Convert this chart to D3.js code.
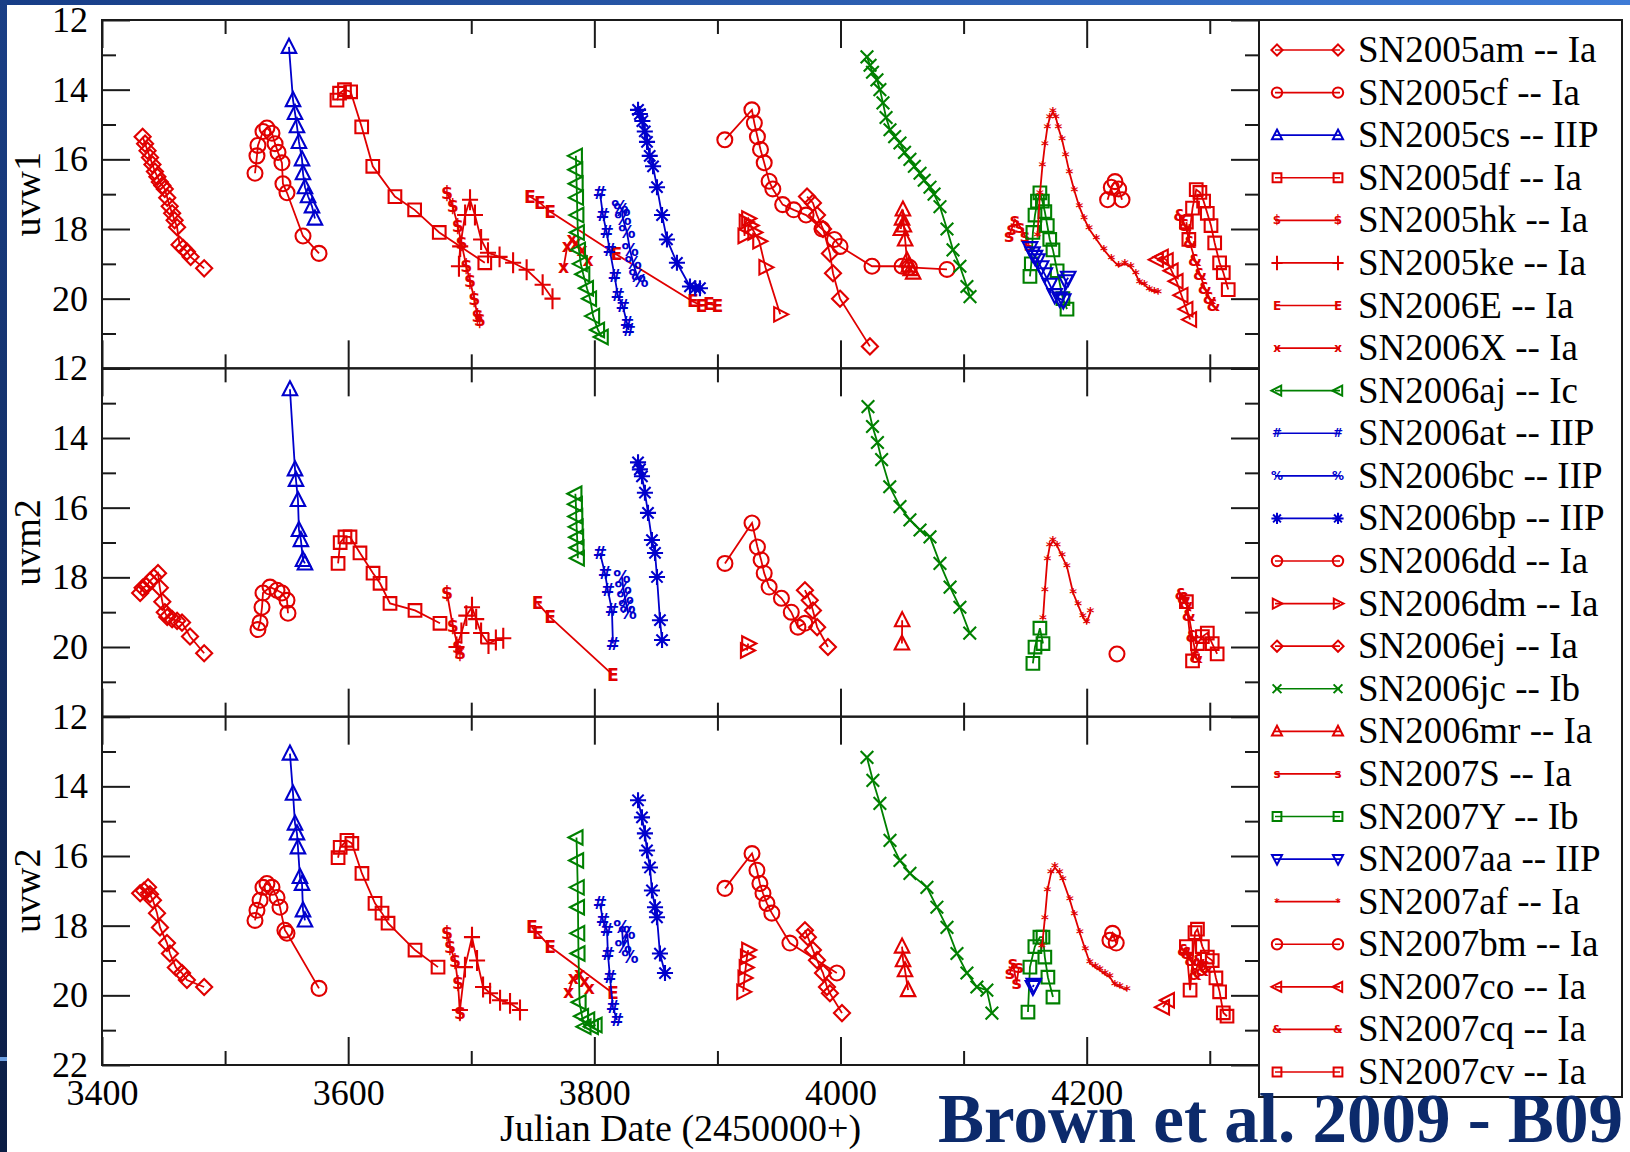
<!DOCTYPE html>
<html><head><meta charset="utf-8">
<script src="https://cdn.jsdelivr.net/npm/d3@7"></script>
<style>html,body{margin:0;padding:0;background:#fff;overflow:hidden}</style>
</head><body>
<svg id="chart" width="1630" height="1152"></svg>
<script>
// ---------------- DATA ----------------
const bands = ["uvw1", "uvm2", "uvw2"];
const xTicksMajor = [3400, 3600, 3800, 4000, 4200];
const xTicksMinor = [3500, 3700, 3900, 4100, 4300];
const yTicksMajor = [12, 14, 16, 18, 20, 22];
const yTicksMinor = [13, 15, 17, 19, 21];
const xTitle = "Julian Date (2450000+)";
const creditText = "Brown et al. 2009 - B09";

const snNames = ["SN2005am","SN2005cf","SN2005cs","SN2005df","SN2005hk","SN2005ke","SN2006E","SN2006X",
  "SN2006aj","SN2006at","SN2006bc","SN2006bp","SN2006dd","SN2006dm","SN2006ej","SN2006jc","SN2006mr",
  "SN2007S","SN2007Y","SN2007aa","SN2007af","SN2007bm","SN2007co","SN2007cq","SN2007cv"];
const snTypes = ["Ia","Ia","IIP","Ia","Ia","Ia","Ia","Ia","Ic","IIP","IIP","IIP","Ia","Ia","Ia","Ib","Ia",
  "Ia","Ib","IIP","Ia","Ia","Ia","Ia","Ia"];

// [JD-2450000, magnitude]
const SN2005am = {
  uvw1: [[3433,15.35],[3435,15.55],[3437,15.75],[3439,15.95],[3441,16.15],[3443,16.35],[3445,16.5],[3447,16.65],[3449,16.75],[3451,16.85],[3453,17.1],[3455,17.35],[3457,17.55],[3459,17.75],[3461,17.95],[3463,18.45],[3466,18.55],[3469,18.65],[3472,18.8],[3483,19.13]],
  uvm2: [[3431,18.45],[3433,18.3],[3436,18.25],[3439,18.1],[3442,18.0],[3445.5,17.88],[3447,18.3],[3449,18.7],[3451,19.0],[3453,19.14],[3457,19.2],[3461,19.25],[3465,19.3],[3471.5,19.7],[3483,20.18]],
  uvw2: [[3431,17.07],[3434,17.0],[3437.4,16.9],[3439,17.1],[3441.4,17.27],[3444.7,17.64],[3447.1,18.05],[3452.8,18.5],[3455.2,18.8],[3460,19.2],[3465,19.36],[3469,19.56],[3483,19.76]]
};
const SN2005cf = {
  uvw1: [[3524.3,16.4],[3525.9,15.9],[3526.7,15.6],[3530.8,15.2],[3534,15.1],[3538.1,15.25],[3540.6,15.55],[3543,15.8],[3546.2,16.1],[3547,16.7],[3550.3,16.96],[3563.3,18.2],[3576.3,18.7]],
  uvm2: [[3526.7,19.5],[3528.4,19.3],[3530,18.86],[3530.8,18.45],[3536.5,18.28],[3542.2,18.37],[3546.2,18.45],[3550.3,18.66],[3551.1,19.03]],
  uvw2: [[3524.3,17.85],[3525.9,17.56],[3528.4,17.27],[3530.8,16.9],[3534,16.79],[3538.1,16.9],[3542.2,17.19],[3544.6,17.47],[3548.6,18.13],[3550.3,18.22],[3576.3,19.8]]
};
const SN2005cs = {
  uvw1: [[3551.9,12.77],[3555.2,14.3],[3556.8,14.67],[3558.4,15.05],[3560,15.5],[3562.5,16.0],[3563.3,16.4],[3564.9,16.8],[3567.4,17.06],[3570.6,17.35],[3573,17.7]],
  uvm2: [[3552.7,12.6],[3556.8,14.9],[3557.6,15.2],[3559.2,15.78],[3560,16.64],[3561.6,16.93],[3563.3,17.5],[3564.9,17.6]],
  uvw2: [[3552.7,13.06],[3555.2,14.21],[3556.8,15.07],[3558.4,15.35],[3559.2,15.75],[3560.8,16.6],[3562.5,16.8],[3563.3,17.56],[3564.9,17.85]]
};
const SN2005df = {
  uvw1: [[3590.9,14.3],[3593,14.1],[3597,14.0],[3602,14.06],[3611,15.07],[3620,16.2],[3638,17.07],[3654,17.45],[3674,18.1],[3711,18.97]],
  uvm2: [[3591.8,17.6],[3593.5,17.0],[3597.4,16.84],[3601.5,16.84],[3609.6,17.3],[3620.2,17.88],[3625.9,18.17],[3634,18.75],[3654.3,18.95],[3674.6,19.32]],
  uvw2: [[3591.8,16.05],[3593.5,15.75],[3599,15.55],[3603,15.64],[3611.2,16.5],[3621.8,17.36],[3627.5,17.64],[3632.4,17.93],[3654.3,18.7],[3673,19.19]]
};
const SN2005hk = {
  uvw1: [[3680.3,16.96],[3685,17.35],[3689,17.9],[3692,18.4],[3696,19.07],[3699,19.5],[3702.5,20.0],[3705,20.5],[3707,20.6]],
  uvm2: [[3680.3,18.45],[3685,19.4],[3689.2,19.99],[3690.8,20.18]],
  uvw2: [[3680.3,18.22],[3682.7,18.6],[3686.8,19.0],[3689.2,19.65],[3690.8,20.5]]
};
const SN2005ke = {
  uvw1: [[3690,19.07],[3691,18.5],[3695,17.6],[3699,17.16],[3703,17.6],[3708,18.3],[3713.6,18.68],[3723,18.8],[3734,18.97],[3745,19.17],[3758,19.6],[3766,20.0]],
  uvm2: [[3688,20.0],[3692,19.6],[3696,19.1],[3700.6,18.86],[3704,19.2],[3708,19.6],[3714,19.9],[3720,19.8],[3726,19.75]],
  uvw2: [[3690.8,20.42],[3694.9,19.19],[3700.6,18.33],[3704.7,19.0],[3709.6,19.76],[3715.3,19.94],[3723.4,20.14],[3731.5,20.23],[3739.6,20.42]]
};
const SN2006E = {
  uvw1: [[3747.7,17.07],[3755.8,17.25],[3764,17.5],[3818,18.73],[3880,20.08],[3887,20.2],[3893,20.15],[3900,20.2]],
  uvm2: [[3754,18.75],[3764,19.14],[3815,20.8]],
  uvw2: [[3749.3,18.05],[3754.1,18.22],[3764,18.6],[3815.1,19.94]]
};
const SN2006X = {
  uvw1: [[3775,19.1],[3778,18.5],[3782,18.3],[3785,18.4],[3790,18.6],[3795,18.9]],
  uvm2: [],
  uvw2: [[3779,19.9],[3783,19.5],[3788,19.4],[3792,19.6],[3796,19.8]]
};
const SN2006aj = {
  uvw1: [[3785.0,15.9],[3785.3,16.3],[3785.6,16.7],[3785.9,17.1],[3786.2,17.6],[3786.6,18.1],[3787.5,18.6],[3789,19.0],[3791,19.3],[3794,19.7],[3796.5,20.0],[3799,20.5],[3803,20.9],[3806,21.1]],
  uvm2: [[3784.6,15.6],[3785,15.9],[3785.3,16.25],[3785.6,16.55],[3786,16.85],[3786.3,17.15],[3786.6,17.45]],
  uvw2: [[3785.5,15.47],[3786,16.13],[3786.5,16.9],[3786.7,17.47],[3786.9,18.22],[3787.1,18.8],[3788,20.2],[3790,20.6],[3792,20.9],[3795,20.7],[3798,20.9],[3801,20.85]]
};
const SN2006at = {
  uvw1: [[3804.6,16.97],[3807,17.6],[3810,18.1],[3812.5,18.6],[3816.5,19.36],[3819,19.9],[3823,20.2],[3826.5,20.7],[3828,20.9]],
  uvm2: [[3804.6,17.3],[3808.6,17.88],[3811,18.37],[3814.3,18.95],[3815.1,19.9]],
  uvw2: [[3804.6,17.36],[3807,17.85],[3810.3,18.13],[3811,18.8],[3812.7,19.48],[3815.1,20.34],[3818.4,20.71]]
};
const SN2006bc = {
  uvw1: [[3820.8,17.36],[3822.4,17.45],[3823.2,17.7],[3826.5,18.1],[3829,18.6],[3831.5,18.97],[3834.8,19.36],[3837,19.5]],
  uvm2: [[3822.4,17.99],[3823.5,18.3],[3825,18.6],[3826.5,18.86],[3827.4,19.03]],
  uvw2: [[3822.4,18.05],[3823.5,18.6],[3826.5,18.22],[3828.9,18.9]]
};
const SN2006bp = {
  uvw1: [[3835.5,14.58],[3837,14.7],[3839,14.9],[3841,15.2],[3842.8,15.5],[3845,15.9],[3847.7,16.2],[3850.9,16.8],[3855,17.6],[3859,18.3],[3867.1,18.97],[3877.7,19.65],[3882,19.7],[3885.8,19.7]],
  uvm2: [[3835.5,14.7],[3837,14.9],[3838.7,15.1],[3841.1,15.57],[3843.6,16.15],[3846.8,16.93],[3849.3,17.3],[3850.9,17.99],[3853.3,19.23],[3855,19.8]],
  uvw2: [[3835.5,14.4],[3838.7,14.89],[3841.1,15.35],[3842.8,15.84],[3845.2,16.33],[3846.8,16.99],[3849.3,17.47],[3850.9,17.76],[3853.3,18.8],[3857.4,19.36]]
};
const SN2006dd = {
  uvw1: [[3906,15.44],[3928,14.58],[3930,14.96],[3932.5,15.35],[3935,15.72],[3938,16.1],[3942,16.63],[3945,16.85],[3953,17.3],[3962,17.45],[3972,17.6],[3985,18.0],[3995,18.3],[3999.6,18.5],[4025.6,19.07],[4050,19.07],[4056,19.1],[4086.5,19.16]],
  uvm2: [[3906.1,17.6],[3928.1,16.44],[3932.5,17.13],[3935.5,17.5],[3938,17.88],[3942,18.28],[3952,18.6],[3960,19.0],[3965.4,19.43],[3971,19.32]],
  uvw2: [[3906.1,16.93],[3928.1,15.93],[3932.1,16.41],[3934.5,16.79],[3937,17.07],[3940.2,17.36],[3944.2,17.64],[3958.9,18.5],[3997,19.36]]
};
const SN2006dm = {
  uvw1: [[3922,18.2],[3923,17.8],[3925,17.7],[3927,17.9],[3930,18.1],[3934,18.35],[3939,19.1],[3951,20.45]],
  uvm2: [[3924,20.1],[3925,19.9]],
  uvw2: [[3921,19.9],[3922,19.5],[3923,19.2],[3924,18.9],[3925,18.7]]
};
const SN2006ej = {
  uvw1: [[3972.8,17.07],[3977.6,17.25],[3980.9,17.6],[3985.8,18.0],[3991.4,18.7],[3993.9,19.27],[3999.6,20.0],[4023.9,21.37]],
  uvm2: [[3971.1,18.37],[3975,18.66],[3977.6,18.95],[3981,19.43],[3989.8,20.0]],
  uvw2: [[3971.1,18.13],[3973.5,18.33],[3977.6,18.7],[3980.9,18.99],[3985.8,19.36],[3989,19.76],[3991.4,19.94],[4001.2,20.51]]
};
const SN2006jc = {
  uvw1: [[4021.5,13.06],[4024,13.3],[4026,13.5],[4029.6,13.72],[4032,14.0],[4034.5,14.38],[4037,14.8],[4040.2,15.15],[4044,15.35],[4048.3,15.53],[4052,15.8],[4056.4,16.0],[4060,16.2],[4064.6,16.4],[4068,16.6],[4072.7,16.8],[4076,17.0],[4080.8,17.36],[4086.5,18.0],[4091.4,18.6],[4097,19.07],[4102.7,19.65],[4105.2,19.94]],
  uvm2: [[4022.3,13.1],[4026,13.67],[4030,14.13],[4033.4,14.62],[4040,15.4],[4048.3,15.97],[4056.4,16.35],[4064.6,16.64],[4072.7,16.84],[4080.8,17.6],[4089,18.28],[4097,18.86],[4105,19.6]],
  uvw2: [[4021.5,13.17],[4026.3,13.83],[4032,14.49],[4040.2,15.55],[4048.3,16.13],[4056.4,16.5],[4070.2,16.9],[4078.3,17.47],[4086.5,18.05],[4094.6,18.8],[4102.7,19.36],[4110.8,19.76],[4118.9,19.85],[4123,20.51]]
};
const SN2006mr = {
  uvw1: [[4049,18.0],[4050,17.7],[4050.7,17.44],[4051.5,17.9],[4052.5,18.3],[4054,18.9],[4055.5,19.05],[4057,19.15],[4059,19.25]],
  uvm2: [[4049.9,19.9],[4050.1,19.23]],
  uvw2: [[4050,18.6],[4050.8,18.99],[4052.4,19.28],[4054.9,19.85]]
};
const SN2007S = {
  uvw1: [[4137,18.2],[4139,18.0],[4141.7,17.73],[4145.8,17.93],[4149.9,18.2],[4153,18.45]],
  uvm2: [],
  uvw2: [[4137.7,19.36],[4140,19.08],[4143,19.65],[4145,19.19]]
};
const SN2007Y = {
  uvw1: [[4153.9,19.36],[4155,19.0],[4156.3,18.1],[4158,17.6],[4160,17.2],[4162,16.96],[4164,17.2],[4166,17.5],[4168,17.9],[4170,18.3],[4172.6,18.6],[4176,19.2],[4180.7,20.0],[4184,20.3]],
  uvm2: [[4156.3,20.47],[4158,20.0],[4162,19.46],[4164.5,19.9]],
  uvw2: [[4152.3,20.48],[4153.9,19.19],[4157.9,18.6],[4162,18.33],[4164.5,18.33],[4166,18.9],[4168.5,19.48],[4172.6,20.05]]
};
const SN2007aa = {
  uvw1: [[4154,18.55],[4156,18.7],[4158,18.8],[4160,18.9],[4163,19.1],[4166,19.3],[4170,19.6],[4174,19.9],[4178,20.0],[4181,20.05],[4183,19.5],[4185,19.4]],
  uvm2: [],
  uvw2: [[4156.3,19.76],[4157,19.7]]
};
const SN2007af = {
  uvw1: [[4160,18.2],[4162,17.0],[4164,16.2],[4166,15.6],[4168,15.1],[4170,14.8],[4172.6,14.64],[4175,14.8],[4177,15.1],[4180,15.44],[4183,15.9],[4186,16.38],[4190,16.9],[4194,17.36],[4198,17.7],[4202,18.0],[4208,18.3],[4214,18.6],[4220,18.85],[4226,19.07],[4231,19.0],[4236,19.1],[4240,19.3],[4243,19.54],[4247,19.6],[4251,19.74],[4255,19.8],[4258,19.83]],
  uvm2: [[4164.5,19.2],[4166,18.4],[4168,17.5],[4170,17.1],[4172.6,16.95],[4176,17.1],[4180,17.4],[4184,17.7],[4189,18.45],[4193,18.8],[4197,19.14],[4200,19.3],[4203,19.0]],
  uvw2: [[4163.7,18.6],[4166,17.8],[4168,17.0],[4171,16.5],[4174.2,16.33],[4178,16.5],[4180.7,16.7],[4186.4,17.27],[4190,17.7],[4194.5,18.22],[4199,18.7],[4202.7,19.08],[4207,19.2],[4210.8,19.28],[4215,19.4],[4218.9,19.48],[4223,19.7],[4227,19.76],[4232.7,19.85]]
};
const SN2007bm = {
  uvw1: [[4217,17.16],[4220,16.8],[4223,16.64],[4226,16.85],[4228.7,17.16]],
  uvm2: [[4224.6,20.2]],
  uvw2: [[4218.9,18.42],[4221,18.22],[4224,18.5]]
};
const SN2007co = {
  uvw1: [[4257,18.88],[4261,18.8],[4265,18.9],[4269,19.2],[4273,19.5],[4277,19.9],[4281,20.3],[4284,20.6]],
  uvm2: [],
  uvw2: [[4262,20.34],[4266,20.14]]
};
const SN2007cq = {
  uvw1: [[4276,17.6],[4280,17.9],[4284,18.4],[4288,18.9],[4292,19.3],[4296,19.7],[4300,20.0],[4303,20.2]],
  uvm2: [[4277,18.5],[4279,18.6],[4281,18.75],[4283,19.1],[4286,19.7],[4289,20.3]],
  uvw2: [[4279,18.7],[4282,18.8],[4285,19.0],[4288,19.4],[4291,19.0],[4294,19.3],[4297,19.2]]
};
const SN2007cv = {
  uvw1: [[4281,17.8],[4283,18.3],[4286,17.4],[4289,16.87],[4292,16.95],[4295,17.2],[4298,17.55],[4301,17.9],[4304,18.4],[4308,18.97],[4311,19.25],[4315,19.74]],
  uvm2: [[4281,18.7],[4286,20.4],[4290,19.9],[4294,19.7],[4298,19.6],[4302,19.9],[4306,20.2]],
  uvw2: [[4281,18.6],[4284,19.85],[4288,18.2],[4290,18.1],[4294,18.6],[4298,18.9],[4302,19.0],[4305,19.5],[4308,19.9],[4311,20.5],[4314,20.6]]
};
const snData = [SN2005am,SN2005cf,SN2005cs,SN2005df,SN2005hk,SN2005ke,SN2006E,SN2006X,SN2006aj,SN2006at,
  SN2006bc,SN2006bp,SN2006dd,SN2006dm,SN2006ej,SN2006jc,SN2006mr,SN2007S,SN2007Y,SN2007aa,SN2007af,
  SN2007bm,SN2007co,SN2007cq,SN2007cv];

// ---------------- STYLES ----------------
const RED = "#e00000", BLUE = "#0000cc", GREEN = "#008000";
const snStyle = [
  {c:RED,m:"diamond"},{c:RED,m:"circle"},{c:BLUE,m:"triUp"},{c:RED,m:"square"},{c:RED,m:"char",ch:"$"},
  {c:RED,m:"plus"},{c:RED,m:"char",ch:"E"},{c:RED,m:"char",ch:"x"},{c:GREEN,m:"triLeft"},{c:BLUE,m:"char",ch:"#"},
  {c:BLUE,m:"char",ch:"%"},{c:BLUE,m:"asterisk"},{c:RED,m:"circle"},{c:RED,m:"triRight"},{c:RED,m:"diamond"},
  {c:GREEN,m:"cross"},{c:RED,m:"triUp"},{c:RED,m:"char",ch:"s"},{c:GREEN,m:"square"},{c:BLUE,m:"triDown"},
  {c:RED,m:"char",ch:"*",fs:13},{c:RED,m:"circle"},{c:RED,m:"triLeft"},{c:RED,m:"char",ch:"&",fs:14},{c:RED,m:"square"}
];
const SERIF = "'Liberation Serif','Times New Roman',Times,serif";

const svg = d3.select("#chart");
const W = 1630, H = 1152;
const L = 102, R = 1259, plotTop = 20, plotBot = 1065;
const ph = (plotBot - plotTop) / 3;

// slide frame
const defs = svg.append("defs");
const gTop = defs.append("linearGradient").attr("id","gTop");
gTop.append("stop").attr("offset","0").attr("stop-color","#173d86");
gTop.append("stop").attr("offset","1").attr("stop-color","#3e7bd6");
const gLeft = defs.append("linearGradient").attr("id","gLeft").attr("x1",0).attr("y1",0).attr("x2",0).attr("y2",1);
gLeft.append("stop").attr("offset","0").attr("stop-color","#1a3f86");
gLeft.append("stop").attr("offset","1").attr("stop-color","#0b1d44");
svg.append("rect").attr("width",W).attr("height",H).attr("fill","#fff");
svg.append("rect").attr("x",0).attr("y",0).attr("width",W).attr("height",5).attr("fill","url(#gTop)");
svg.append("rect").attr("x",0).attr("y",0).attr("width",7).attr("height",H).attr("fill","url(#gLeft)");
svg.append("rect").attr("x",0).attr("y",1057).attr("width",7).attr("height",4).attr("fill","#6c9ee0");

const x = d3.scaleLinear().domain([3400, 4340]).range([L, R]);

function markerPath(m, k) {
  const s = 7 * k;
  switch (m) {
    case "circle": { const r = 6.5 * k; return `M${r},0A${r},${r} 0 1,1 ${-r},0A${r},${r} 0 1,1 ${r},0Z`; }
    case "square": { const h = 5.5 * k; return `M${-h},${-h}H${h}V${h}H${-h}Z`; }
    case "diamond": return `M0,${-s}L${s},0L0,${s}L${-s},0Z`;
    case "triUp": return `M0,${-s}L${s*0.9},${s*0.75}L${-s*0.9},${s*0.75}Z`;
    case "triDown": return `M0,${s}L${s*0.9},${-s*0.75}L${-s*0.9},${-s*0.75}Z`;
    case "triLeft": return `M${-s},0L${s*0.75},${-s*0.9}L${s*0.75},${s*0.9}Z`;
    case "triRight": return `M${s},0L${-s*0.75},${-s*0.9}L${-s*0.75},${s*0.9}Z`;
    case "plus": return `M${-s},0H${s}M0,${-s*1.3}V${s*1.3}`;
    case "cross": { const a = 5.5 * k; return `M${-a},${-a}L${a},${a}M${-a},${a}L${a},${-a}`; }
    case "asterisk": { const a = s * 0.7; return `M${-s},0H${s}M0,${-s}V${s}M${-a},${-a}L${a},${a}M${-a},${a}L${a},${-a}`; }
  }
  return "";
}

function drawMarkers(g, pts, st, k, sw) {
  if (st.m === "char") {
    g.selectAll("text.mk").data(pts).join("text").attr("class","mk")
      .attr("x", d => d[0]).attr("y", d => d[1])
      .attr("text-anchor","middle").attr("dominant-baseline","central")
      .attr("font-family","'DejaVu Sans',sans-serif").attr("font-weight","bold")
      .attr("font-size",(st.fs || 15) * k)
      .attr("fill", st.c).text(st.ch);
  } else {
    g.selectAll("path.mk").data(pts).join("path").attr("class","mk")
      .attr("transform", d => `translate(${d[0]},${d[1]})`)
      .attr("d", markerPath(st.m, k)).attr("fill","none")
      .attr("stroke", st.c).attr("stroke-width", sw);
  }
}

function styleAxis(g, fs) {
  g.select(".domain").remove();
  g.selectAll(".tick line").attr("stroke","#1a1a1a").attr("stroke-width",2);
  g.selectAll("text").attr("font-family",SERIF).attr("font-size",fs).attr("fill","#000");
}

bands.forEach((band, i) => {
  const top = plotTop + i * ph, bot = top + ph;
  const y = d3.scaleLinear().domain([12, 22]).range([top, bot]);
  const gp = svg.append("g");

  // data
  const gd = gp.append("g");
  const line = d3.line().x(d => x(d[0])).y(d => y(d[1]));
  snData.forEach((sn, j) => {
    const arr = sn[band];
    if (!arr || !arr.length) return;
    const st = snStyle[j];
    const gs = gd.append("g");
    gs.append("path").datum(arr).attr("d", line).attr("fill","none")
      .attr("stroke", st.c).attr("stroke-width", 1.8);
    drawMarkers(gs, arr.map(d => [x(d[0]), y(d[1])]), st, 1.15, 2.1);
  });

  // axes (ticks inward on all four sides)
  const leftVals = i === 2 ? yTicksMajor : yTicksMajor.slice(0, 5);
  gp.append("g").attr("transform",`translate(${L},0)`)
    .call(d3.axisLeft(y).tickValues(yTicksMajor).tickSizeInner(-28).tickSizeOuter(0).tickPadding(14)
      .tickFormat(d => leftVals.includes(d) ? d3.format("d")(d) : ""))
    .call(g => styleAxis(g, 36));
  gp.append("g").attr("transform",`translate(${L},0)`)
    .call(d3.axisLeft(y).tickValues(yTicksMinor).tickSizeInner(-14).tickSizeOuter(0).tickFormat(""))
    .call(g => styleAxis(g, 36));
  gp.append("g").attr("transform",`translate(${R},0)`)
    .call(d3.axisRight(y).tickValues(yTicksMajor).tickSizeInner(-28).tickSizeOuter(0).tickFormat(""))
    .call(g => styleAxis(g, 36));
  gp.append("g").attr("transform",`translate(${R},0)`)
    .call(d3.axisRight(y).tickValues(yTicksMinor).tickSizeInner(-14).tickSizeOuter(0).tickFormat(""))
    .call(g => styleAxis(g, 36));
  gp.append("g").attr("transform",`translate(0,${top})`)
    .call(d3.axisTop(x).tickValues(xTicksMajor).tickSizeInner(-28).tickSizeOuter(0).tickFormat(""))
    .call(g => styleAxis(g, 36));
  gp.append("g").attr("transform",`translate(0,${top})`)
    .call(d3.axisTop(x).tickValues(xTicksMinor).tickSizeInner(-14).tickSizeOuter(0).tickFormat(""))
    .call(g => styleAxis(g, 36));
  gp.append("g").attr("transform",`translate(0,${bot})`)
    .call(d3.axisBottom(x).tickValues(xTicksMajor).tickSizeInner(-28).tickSizeOuter(0).tickPadding(14)
      .tickFormat(i === 2 ? d3.format("d") : ""))
    .call(g => styleAxis(g, 36));
  gp.append("g").attr("transform",`translate(0,${bot})`)
    .call(d3.axisBottom(x).tickValues(xTicksMinor).tickSizeInner(-14).tickSizeOuter(0).tickFormat(""))
    .call(g => styleAxis(g, 36));

  gp.append("rect").attr("x",L).attr("y",top).attr("width",R-L).attr("height",ph)
    .attr("fill","none").attr("stroke","#1a1a1a").attr("stroke-width",2);

  // y title
  svg.append("text").attr("transform",`translate(40,${(top+bot)/2}) rotate(-90)`)
    .attr("text-anchor","middle").attr("font-family",SERIF).attr("font-size",38).attr("fill","#000")
    .text(band);
});

// x title
svg.append("text").attr("x",(L+R)/2).attr("y",1141).attr("text-anchor","middle")
  .attr("font-family",SERIF).attr("font-size",38).attr("fill","#000").text(xTitle);

// legend
const legX = 1259, legY = 20, legW = 363, legH = 1077;
const lg = svg.append("g");
lg.append("rect").attr("x",legX).attr("y",legY).attr("width",legW).attr("height",legH)
  .attr("fill","#fff").attr("stroke","#1a1a1a").attr("stroke-width",2);
const rowY = d3.scaleLinear().domain([0, snNames.length - 1]).range([50, 1072]);
snNames.forEach((nm, i) => {
  const yy = rowY(i), st = snStyle[i];
  const gi = lg.append("g");
  gi.append("line").attr("x1",1275).attr("x2",1340).attr("y1",yy).attr("y2",yy)
    .attr("stroke",st.c).attr("stroke-width",1.6);
  drawMarkers(gi, [[1277,yy],[1338,yy]], st, 0.8, 2);
  gi.append("text").attr("x",1358).attr("y",yy+12).attr("font-family",SERIF).attr("font-size",37)
    .attr("fill","#000").text(`${nm} -- ${snTypes[i]}`);
});

// credit
svg.append("text").attr("x",938).attr("y",1142).attr("font-family",SERIF).attr("font-weight","bold")
  .attr("font-size",69).attr("fill","#0c2a6b").text(creditText);
</script>
</body></html>
